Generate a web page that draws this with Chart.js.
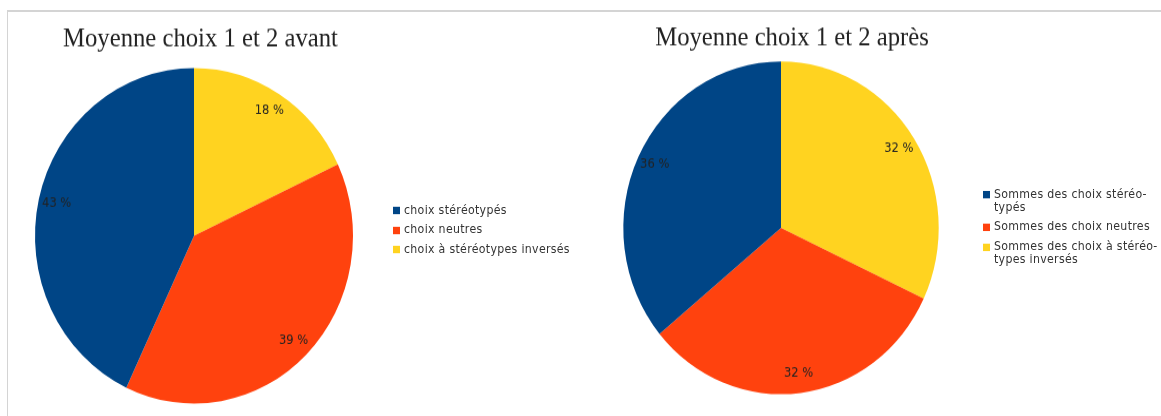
<!DOCTYPE html>
<html lang="fr">
<head>
<meta charset="utf-8">
<script src="https://cdn.jsdelivr.net/npm/chart.js@4.4.1/dist/chart.umd.min.js"></script>
<style>
  html, body { margin: 0; padding: 0; background: #fff; overflow: hidden; }
  #cadre { position: absolute; left: 7px; top: 10px; width: 1160px; height: 420px;
           border-top: 2px solid #d4d4d4; border-left: 1px solid #d4d4d4; }
  #zone { position: absolute; left: 0; top: 0; width: 1161px; height: 394px;
          transform: scaleY(1.055); transform-origin: 0 0; }
  #zone canvas { position: absolute; top: 0; }
  .legende { position: absolute; font-family: "DejaVu Sans", sans-serif; font-size: 11px;
             line-height: 12.4px; color: #333; letter-spacing: 0.3px; }
  .legende div { position: relative; padding-left: 11px; margin-bottom: 6px; }
  .legende span { position: absolute; left: 0; top: 2.7px; width: 7px; height: 7px; }
  #legende-avant { left: 393px; top: 193.8px; width: 220px; white-space: nowrap; }
  #legende-apres { left: 983px; top: 178.6px; width: 178px; }
</style>
</head>
<body>
<div id="cadre"></div>
<div id="zone">
  <canvas id="pie-avant" width="590" height="394" style="left:0"></canvas>
  <canvas id="pie-apres" width="571" height="394" style="left:590px"></canvas>
  <div id="legende-avant" class="legende"></div>
  <div id="legende-apres" class="legende"></div>
</div>
<script>
// donnees (ordre de la legende)
const couleurs = ["#004586", "#ff420e", "#ffd320"];
const categoriesAvant = ["choix stéréotypés", "choix neutres", "choix à stéréotypes inversés"];
const valeursAvant = [43, 39, 18];
const categoriesApres = ["Sommes des choix stéréo\u00ADtypés", "Sommes des choix neutres", "Sommes des choix à stéréo\u00ADtypes inversés"];
const valeursApres = [36, 32, 32];

// pourcentages dans les parts
const etiquettes = {
  id: "etiquettes",
  afterDatasetsDraw(chart) {
    const ctx = chart.ctx;
    const meta = chart.getDatasetMeta(0);
    const valeurs = chart.data.datasets[0].data;
    const total = valeurs.reduce((a, b) => a + b, 0);
    ctx.save();
    ctx.font = '11.5px "DejaVu Sans"';
    ctx.fillStyle = "#222";
    ctx.textAlign = "center";
    ctx.textBaseline = "middle";
    meta.data.forEach((arc, i) => {
      const p = arc.getProps(["x", "y", "startAngle", "endAngle", "outerRadius"], true);
      const milieu = (p.startAngle + p.endAngle) / 2;
      const r = p.outerRadius * 0.885;
      ctx.fillText(Math.round(valeurs[i] / total * 100) + " %", p.x + Math.cos(milieu) * r, p.y + Math.sin(milieu) * r);
    });
    ctx.restore();
  }
};

// legende en html (pour couper les libelles longs)
const legendeHtml = {
  id: "legendeHtml",
  afterUpdate(chart, args, opts) {
    const boite = document.getElementById(opts.conteneur);
    boite.innerHTML = "";
    const items = chart.options.plugins.legend.labels.generateLabels(chart).reverse();
    items.forEach(item => {
      const ligne = document.createElement("div");
      const carre = document.createElement("span");
      carre.style.background = item.fillStyle;
      ligne.appendChild(carre);
      ligne.appendChild(document.createTextNode(item.text));
      boite.appendChild(ligne);
    });
  }
};

// decale le camembert par rapport au titre
const decalage = {
  id: "decalage",
  afterLayout(chart, args, opts) {
    chart.chartArea.left += opts.dx;
    chart.chartArea.right += opts.dx;
  }
};

function camembert(id, titre, categories, valeurs, reglages) {
  // sens horaire depuis le haut : jaune, orange, bleu
  const labels = categories.slice().reverse();
  const data = valeurs.slice().reverse();
  const fonds = couleurs.slice().reverse();
  return new Chart(document.querySelector(id).getContext("2d"), {
    type: "pie",
    data: {
      labels: labels,
      datasets: [{
        data: data,
        backgroundColor: fonds,
        borderWidth: 0,
      }],
    },
    options: {
      responsive: false,
      animation: false,
      radius: reglages.rayon,
      layout: { padding: { left: 0, right: reglages.droite, top: 0, bottom: reglages.bas } },
      plugins: {
        legend: { display: false },
        tooltip: { enabled: false },
        title: {
          display: true,
          text: titre,
          color: "#222",
          font: { family: '"Liberation Serif", serif', size: 24.7, weight: "normal" },
          padding: { top: reglages.haut, bottom: 10 },
        },
        legendeHtml: { conteneur: reglages.legende },
        decalage: { dx: reglages.dx },
      },
    },
    plugins: [etiquettes, legendeHtml, decalage],
  });
}

const pieAvant = camembert("#pie-avant", "Moyenne choix 1 et 2 avant", categoriesAvant, valeursAvant,
  { rayon: 159, droite: 189, bas: 9.7, haut: 23.1, dx: -6.5, legende: "legende-avant" });
const pieApres = camembert("#pie-apres", "Moyenne choix 1 et 2 après", categoriesApres, valeursApres,
  { rayon: 157.7, droite: 167, bas: 23.7, haut: 21.9, dx: -11, legende: "legende-apres" });
</script>
</body>
</html>
